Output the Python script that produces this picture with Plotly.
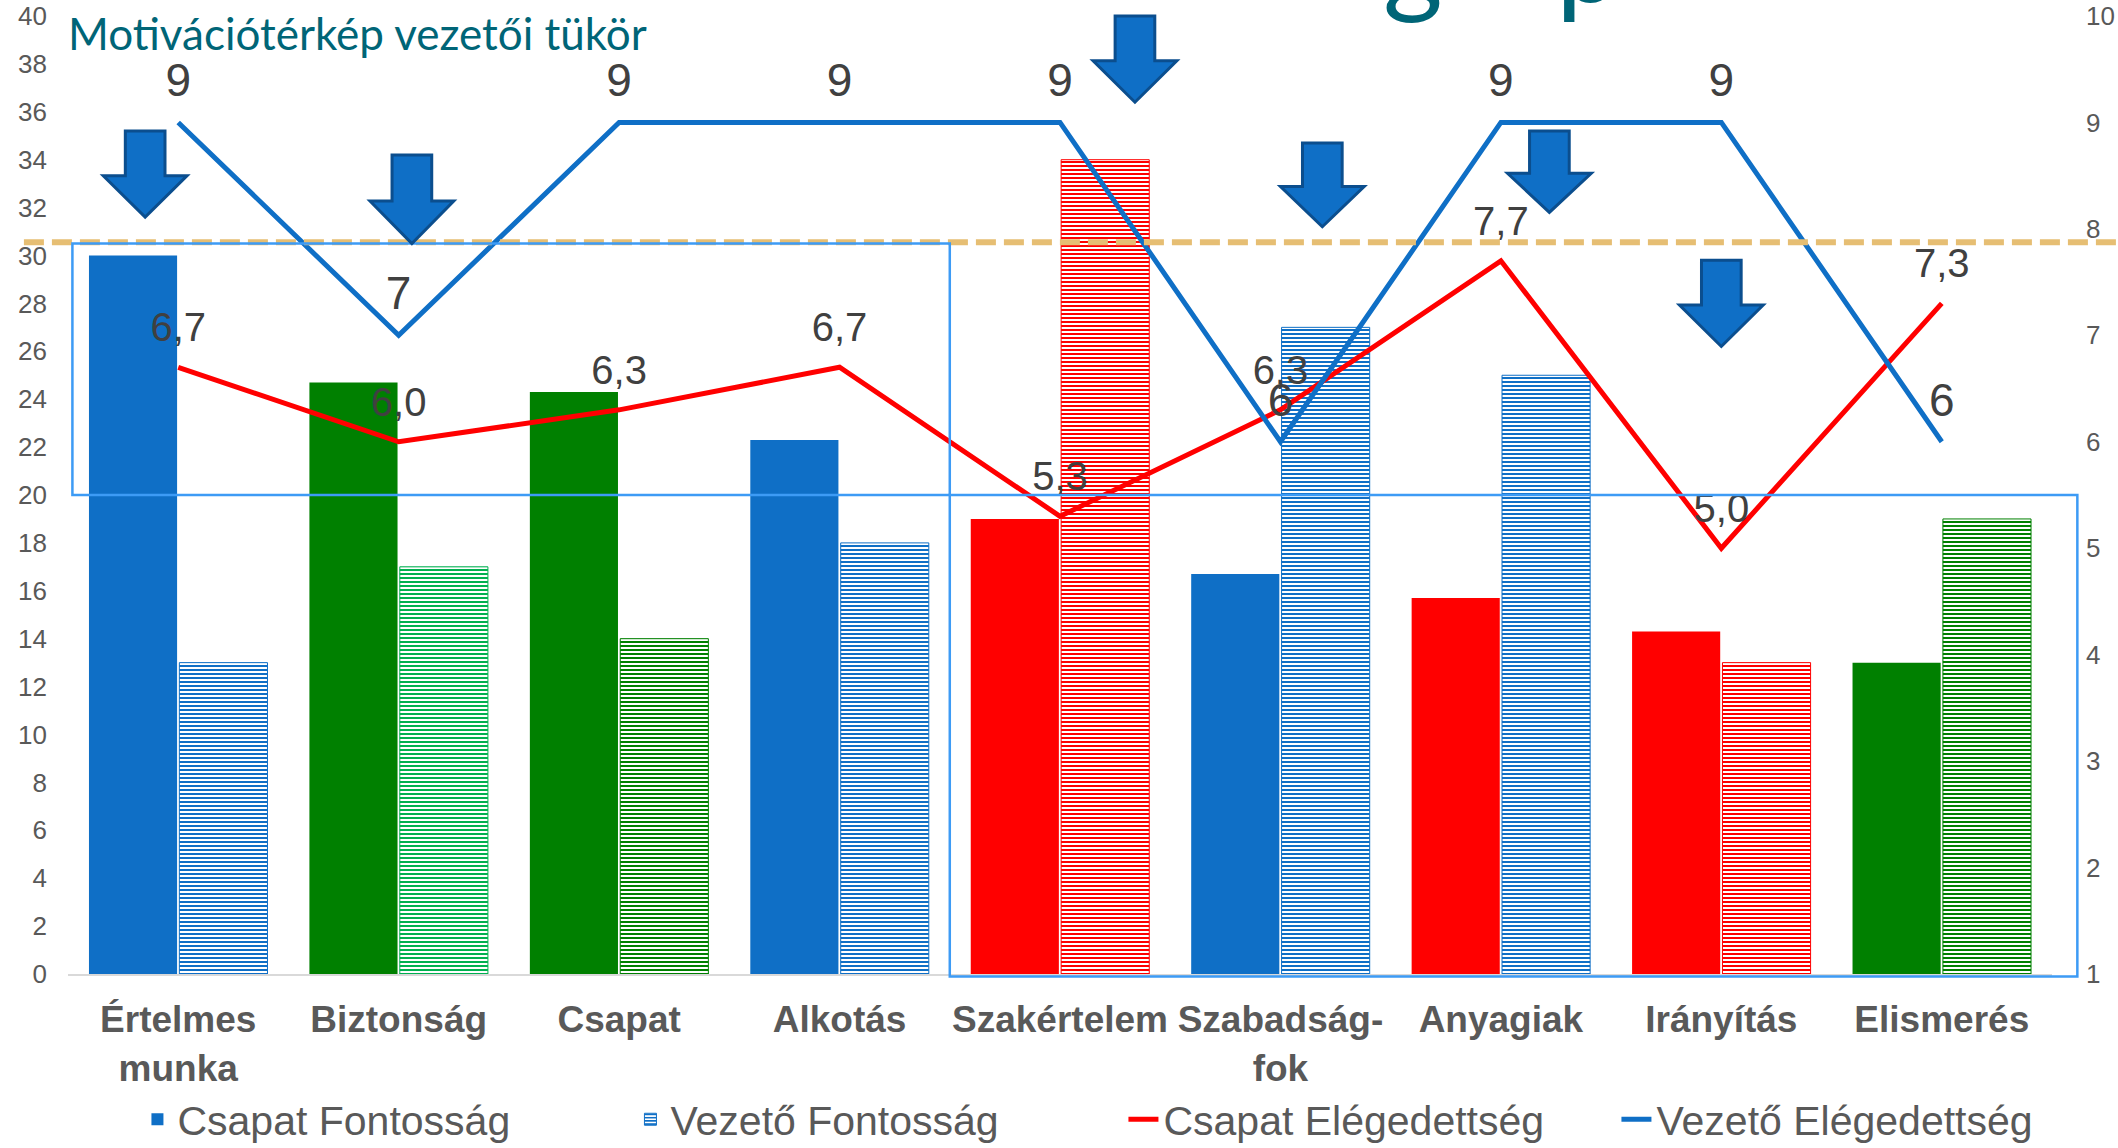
import plotly.graph_objects as go

# ---------------- data ----------------
categories = ["Értelmes<br>munka", "Biztonság", "Csapat", "Alkotás", "Szakértelem",
              "Szabadság-<br>fok", "Anyagiak", "Irányítás", "Elismerés"]
team_importance = [30.0, 24.7, 24.3, 22.3, 19.0, 16.7, 15.7, 14.3, 13.0]     # Csapat Fontosság
leader_importance = [13, 17, 14, 18, 34, 27, 25, 13, 19]                     # Vezető Fontosság
team_satisfaction = [6.7, 6.0, 6.3, 6.7, 5.3, 6.3, 7.7, 5.0, 7.3]            # Csapat Elégedettség
leader_satisfaction = [9, 7, 9, 9, 9, 6, 9, 9, 6]                            # Vezető Elégedettség
left_ticks = list(range(0, 41, 2))
right_ticks = list(range(1, 11))

BLUE, GREEN, LGREEN, RED = "#0F6FC6", "#008000", "#00B050", "#FF0000"
team_colors = [BLUE, GREEN, GREEN, BLUE, RED, BLUE, RED, RED, GREEN]
leader_colors = [BLUE, LGREEN, GREEN, BLUE, RED, BLUE, BLUE, RED, GREEN]

# decorations (category position, top value, tip value on the left axis)
arrows = [(-0.15, 35.2, 31.6), (1.06, 34.2, 30.5), (4.34, 40.0, 36.4),
          (5.19, 34.7, 31.2), (6.22, 35.2, 31.8), (7.0, 29.8, 26.2)]
threshold = 30.55
boxes = [(-0.48, 3.5, 20.0, 30.5), (3.5, 8.615, -0.1, 20.0)]

X_RANGE = (-0.5, 8.5)
Y_RANGE = (0, 40)


def px(x):
    return (x - X_RANGE[0]) / (X_RANGE[1] - X_RANGE[0])


def py(y):
    return (y - Y_RANGE[0]) / (Y_RANGE[1] - Y_RANGE[0])


FONT = "Liberation Sans, Arial, sans-serif"
TITLE_FONT = "Lato, Open Sans, sans-serif"
xs = list(range(len(categories)))

fig = go.Figure()
fig.add_trace(go.Bar(
    x=xs, y=team_importance, name="Csapat Fontosság",
    marker=dict(color=team_colors, line=dict(width=0)),
))
fig.add_trace(go.Bar(
    x=xs, y=leader_importance, name="Vezető Fontosság",
    marker=dict(color=leader_colors, line=dict(color=leader_colors, width=1),
                pattern=dict(shape="-", fgcolor=leader_colors, bgcolor="white",
                             size=4, solidity=0.5, fillmode="replace")),
))
fig.add_trace(go.Scatter(
    x=xs, y=team_satisfaction, name="Csapat Elégedettség", yaxis="y2",
    mode="lines+markers+text", line=dict(color=RED, width=5),
    marker=dict(size=24, color="rgba(0,0,0,0)"),
    text=[f"{v:.1f}".replace(".", ",") for v in team_satisfaction],
    textposition="top center", textfont=dict(family=FONT, size=40, color="#404040"),
    cliponaxis=False,
))
fig.add_trace(go.Scatter(
    x=xs, y=leader_satisfaction, name="Vezető Elégedettség", yaxis="y2",
    mode="lines+markers+text", line=dict(color=BLUE, width=5),
    marker=dict(size=22, color="rgba(0,0,0,0)"),
    text=[str(v) for v in leader_satisfaction],
    textposition="top center", textfont=dict(family=FONT, size=46, color="#404040"),
    cliponaxis=False,
))

shapes = []
# threshold dashed line
shapes.append(dict(type="line", xref="paper", yref="paper",
                   x0=px(-0.70), x1=px(8.85), y0=py(threshold), y1=py(threshold),
                   line=dict(color="#E6BE73", width=6, dash="20px,8px"), layer="above"))
# light blue boxes
for x0, x1, y0, y1 in boxes:
    shapes.append(dict(type="rect", xref="paper", yref="paper",
                       x0=px(x0), x1=px(x1), y0=py(y0), y1=py(y1),
                       line=dict(color="#3D9BF5", width=2.5), fillcolor="rgba(0,0,0,0)",
                       layer="above"))
# block arrows
HS, HH, HEAD = 0.09, 0.19, 0.48
for cx, top, tip in arrows:
    neck = tip + (top - tip) * HEAD
    pts = [(cx - HS, top), (cx + HS, top), (cx + HS, neck), (cx + HH, neck),
           (cx, tip), (cx - HH, neck), (cx - HS, neck)]
    path = "M " + " L ".join(f"{px(a):.5f},{py(b):.5f}" for a, b in pts) + " Z"
    shapes.append(dict(type="path", xref="paper", yref="paper", path=path,
                       fillcolor=BLUE, line=dict(color="#0B4E8E", width=3), layer="above"))

annotations = [
    dict(text="Motivációtérkép vezetői tükör", xref="paper", yref="paper",
         x=px(-0.51), y=py(39.3), xanchor="left", yanchor="middle", showarrow=False,
         font=dict(family=TITLE_FONT, size=44, color="#006577")),
    dict(text="g", xref="paper", yref="paper", x=px(5.6), y=py(39.5),
         xanchor="center", yanchor="bottom", showarrow=False,
         font=dict(family=TITLE_FONT, size=115, color="#006577")),
    dict(text="p", xref="paper", yref="paper", x=px(6.24), y=py(39.5),
         xanchor="left", yanchor="bottom", showarrow=False,
         font=dict(family=TITLE_FONT, size=115, color="#006577")),
]

fig.update_layout(
    width=2118, height=1148,
    margin=dict(l=68, r=66, t=16, b=174, autoexpand=False),
    paper_bgcolor="white", plot_bgcolor="white",
    barmode="group", bargap=0.18, bargroupgap=0.025,
    font=dict(family=FONT, color="#595959"),
    xaxis=dict(range=list(X_RANGE), tickvals=xs, ticktext=categories,
               tickfont=dict(family=FONT, size=37, color="#595959", weight="bold"),
               showgrid=False, zeroline=False, showline=True, linecolor="#D9D9D9",
               linewidth=2, ticks="", ticklabelstandoff=12, automargin=False),
    yaxis=dict(range=list(Y_RANGE), tickvals=left_ticks,
               tickfont=dict(family=FONT, size=26, color="#595959"),
               showgrid=False, zeroline=False, showline=False, ticklabelstandoff=20,
               automargin=False),
    yaxis2=dict(range=[1, 10], tickvals=right_ticks, overlaying="y", side="right",
                tickfont=dict(family=FONT, size=26, color="#595959"),
                showgrid=False, zeroline=False, showline=False, ticklabelstandoff=33,
                automargin=False),
    legend=dict(orientation="h", x=0.035, xanchor="left", y=-0.152, yanchor="middle",
                entrywidth=448, entrywidthmode="pixels",
                font=dict(family=FONT, size=41, color="#595959"),
                bgcolor="rgba(0,0,0,0)", traceorder="normal"),
    shapes=shapes,
    annotations=annotations,
)

fig.write_html("out.html", config={"displayModeBar": False},
               post_script="document.body.style.margin='0';document.body.style.overflow='hidden';")
